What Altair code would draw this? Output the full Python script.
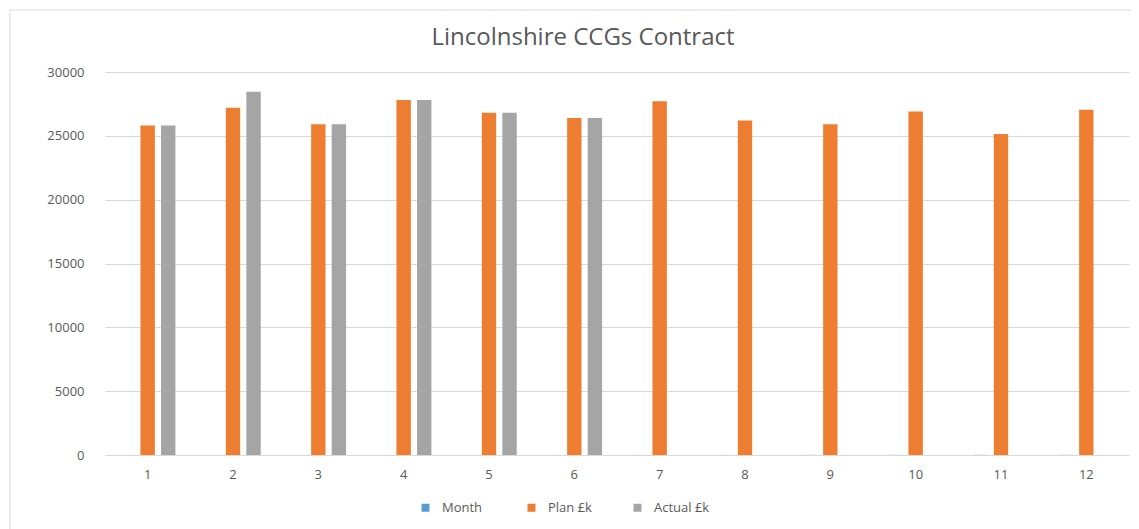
import altair as alt
import pandas as pd

months = [1, 2, 3, 4, 5, 6, 7, 8, 9, 10, 11, 12]
month_values = [1, 2, 3, 4, 5, 6, 7, 8, 9, 10, 11, 12]
plan = [25800, 27200, 25900, 27800, 26800, 26400, 27700, 26200, 25900, 26900, 25150, 27050]
actual = [25800, 28450, 25900, 27800, 26800, 26400, None, None, None, None, None, None]
series_names = ["Month", "Plan £k", "Actual £k"]
series_colors = ["#5b9bd5", "#ed7d31", "#a5a5a5"]
y_ticks = [0, 5000, 10000, 15000, 20000, 25000, 30000]
title_text = "Lincolnshire CCGs Contract"

rows = []
for i, m in enumerate(months):
    for name, vals in zip(series_names, [month_values, plan, actual]):
        if vals[i] is not None:
            rows.append({"month": m, "series": name, "value": vals[i]})
df = pd.DataFrame(rows)

FONT = "Open Sans"
TXT = "#595959"

bars = alt.Chart(df).mark_bar().encode(
    x=alt.X("month:O", title=None,
            scale=alt.Scale(paddingInner=0.35, paddingOuter=0.175),
            axis=alt.Axis(labelAngle=0, ticks=False, domainColor="#d9d9d9",
                          labelColor=TXT, labelFontSize=13, labelPadding=13,
                          labelFont=FONT)),
    xOffset=alt.XOffset("series:N", sort=series_names,
                        scale=alt.Scale(domain=series_names, paddingInner=0.3, paddingOuter=0)),
    y=alt.Y("value:Q", title=None,
            scale=alt.Scale(domain=[0, 30000], nice=False),
            axis=alt.Axis(values=y_ticks, format="d", ticks=False, domain=False,
                          gridColor="#d9d9d9", labelColor=TXT, labelFontSize=13,
                          labelPadding=21, labelFont=FONT)),
    color=alt.Color("series:N", sort=series_names,
                    scale=alt.Scale(domain=series_names, range=series_colors),
                    legend=alt.Legend(title=None, orient="none", legendX=314, legendY=429,
                                      direction="horizontal", symbolType="square",
                                      symbolSize=64, labelFontSize=13, labelColor=TXT,
                                      labelFont=FONT, labelOffset=10, gridAlign="all",
                                      columnPadding=27, symbolStrokeWidth=0)),
)

border = alt.Chart(pd.DataFrame({"a": [0]})).mark_rect(
    fillOpacity=0, stroke="#d9d9d9", strokeWidth=1
).encode(
    x=alt.value(-95), x2=alt.value(1031), y=alt.value(-62), y2=alt.value(480)
)

title = alt.Chart(pd.DataFrame({"t": [title_text]})).mark_text(
    font=FONT, fontSize=24, color=TXT, align="center", baseline="middle"
).encode(text="t:N", x=alt.value(478), y=alt.value(-34))

chart = alt.layer(border, bars, title).properties(
    width=1024, height=383,
    padding={"left": 97, "top": 64, "right": 2, "bottom": 80},
    autosize=alt.AutoSizeParams(type="none"),
).configure_view(stroke=None)

chart.save("out.html", embed_options={"renderer": "svg", "actions": False})
